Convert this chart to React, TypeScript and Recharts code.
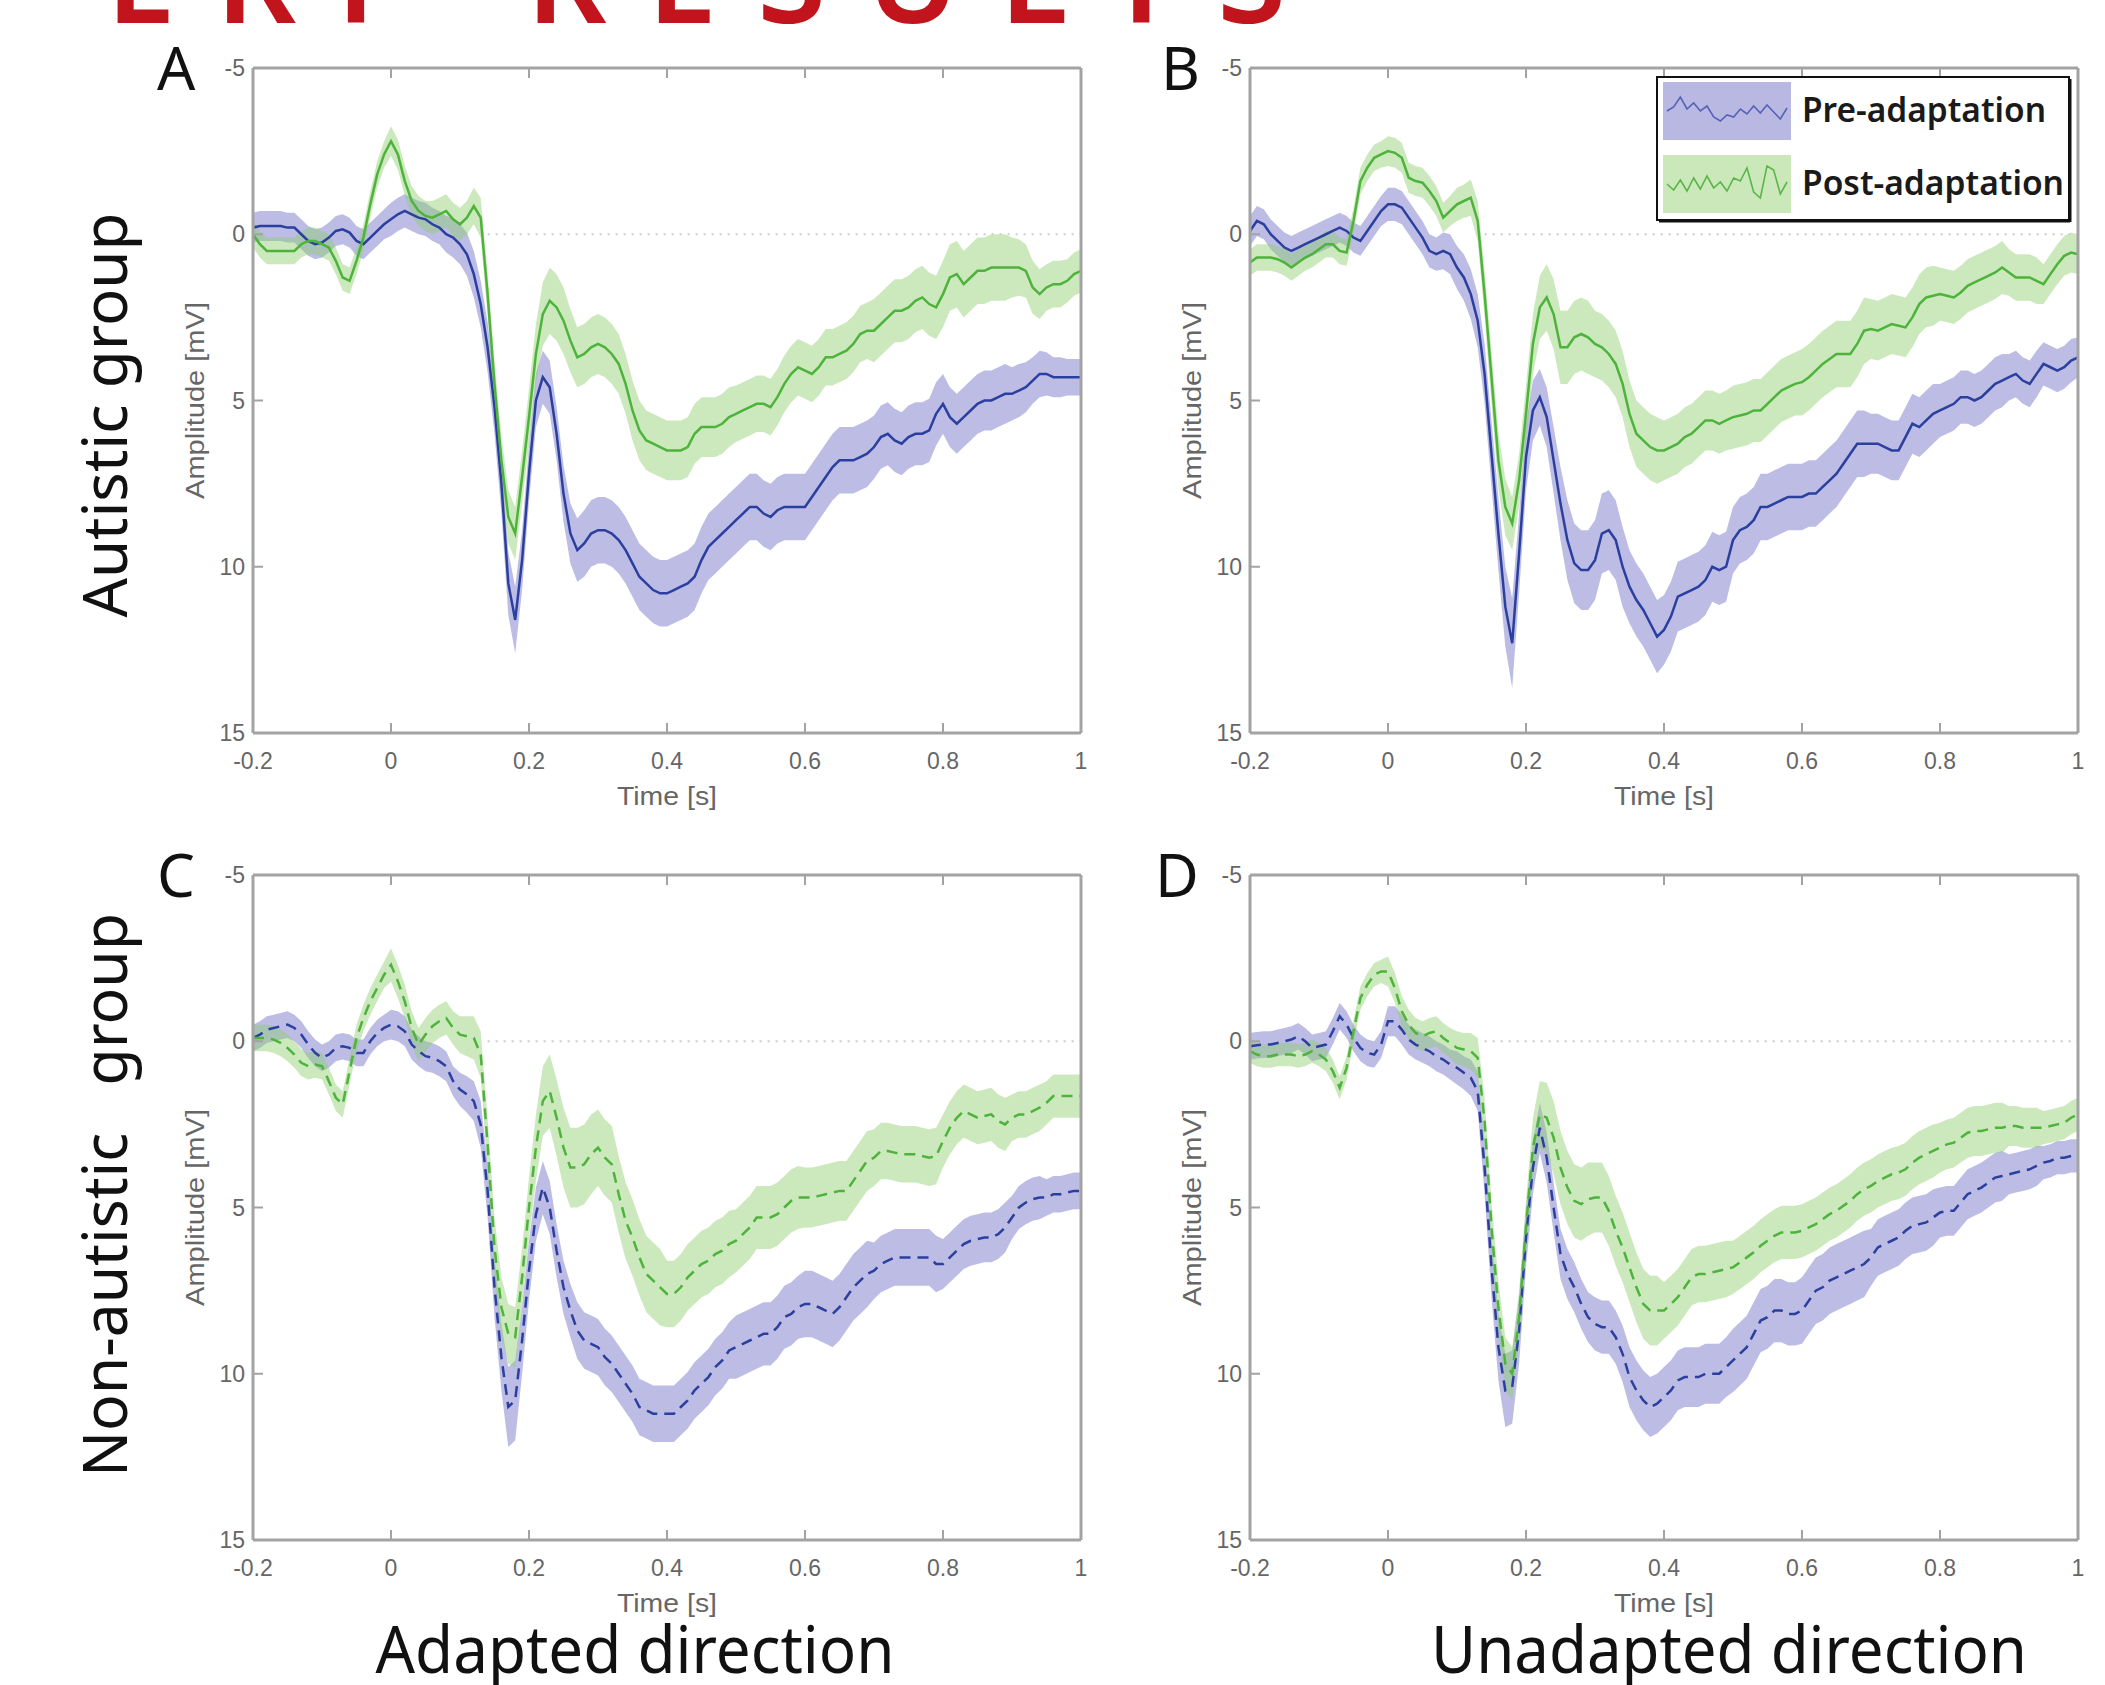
import React from 'react';
import { ComposedChart, Area, Line, XAxis, YAxis, ReferenceLine } from 'recharts';

// sample times (s), 10 ms grid
const times = [
  -0.2, -0.19, -0.18, -0.17, -0.16, -0.15, -0.14, -0.13, -0.12, -0.11,
  -0.1, -0.09, -0.08, -0.07, -0.06, -0.05, -0.04, -0.03, -0.02, -0.01,
  0, 0.01, 0.02, 0.03, 0.04, 0.05, 0.06, 0.07, 0.08, 0.09,
  0.1, 0.11, 0.12, 0.13, 0.14, 0.15, 0.16, 0.17, 0.18, 0.19,
  0.2, 0.21, 0.22, 0.23, 0.24, 0.25, 0.26, 0.27, 0.28, 0.29,
  0.3, 0.31, 0.32, 0.33, 0.34, 0.35, 0.36, 0.37, 0.38, 0.39,
  0.4, 0.41, 0.42, 0.43, 0.44, 0.45, 0.46, 0.47, 0.48, 0.49,
  0.5, 0.51, 0.52, 0.53, 0.54, 0.55, 0.56, 0.57, 0.58, 0.59,
  0.6, 0.61, 0.62, 0.63, 0.64, 0.65, 0.66, 0.67, 0.68, 0.69,
  0.7, 0.71, 0.72, 0.73, 0.74, 0.75, 0.76, 0.77, 0.78, 0.79,
  0.8, 0.81, 0.82, 0.83, 0.84, 0.85, 0.86, 0.87, 0.88, 0.89,
  0.9, 0.91, 0.92, 0.93, 0.94, 0.95, 0.96, 0.97, 0.98, 0.99,
  1,
];

// A: autistic, adapted direction
const preA = [
  -0.2, -0.25, -0.25, -0.25, -0.25, -0.2, -0.2, 0, 0.2, 0.3,
  0.25, 0.1, -0.1, -0.15, -0.05, 0.2, 0.3, 0.1, -0.1, -0.3,
  -0.45, -0.6, -0.7, -0.6, -0.5, -0.45, -0.3, -0.2, 0, 0.1,
  0.3, 0.6, 1.2, 2.1, 3.4, 5.2, 7.5, 10.5, 11.6, 9.8,
  7.2, 5.0, 4.3, 4.6, 6.0, 7.8, 9.0, 9.5, 9.3, 9.0,
  8.9, 8.9, 9.0, 9.2, 9.5, 9.9, 10.3, 10.5, 10.7, 10.8,
  10.8, 10.7, 10.6, 10.5, 10.3, 9.8, 9.4, 9.2, 9.0, 8.8,
  8.6, 8.4, 8.2, 8.2, 8.4, 8.5, 8.3, 8.2, 8.2, 8.2,
  8.2, 7.9, 7.6, 7.3, 7.0, 6.8, 6.8, 6.8, 6.7, 6.6,
  6.4, 6.1, 6.0, 6.2, 6.3, 6.1, 6.0, 6.0, 5.9, 5.4,
  5.1, 5.5, 5.7, 5.5, 5.3, 5.1, 5.0, 5.0, 4.9, 4.8,
  4.8, 4.7, 4.6, 4.4, 4.2, 4.2, 4.3, 4.3, 4.3, 4.3,
  4.3,
];
const semPreA = [
  0.45, 0.45, 0.45, 0.45, 0.45, 0.45, 0.45, 0.45, 0.45, 0.45,
  0.45, 0.45, 0.45, 0.45, 0.45, 0.45, 0.45, 0.45, 0.45, 0.45,
  0.5, 0.5, 0.5, 0.5, 0.5, 0.5, 0.5, 0.5, 0.55, 0.6,
  0.6, 0.65, 0.7, 0.7, 0.75, 0.8, 0.9, 0.95, 1.0, 0.9,
  0.85, 0.8, 0.8, 0.8, 0.8, 0.85, 0.9, 0.95, 1.0, 1.0,
  1.0, 1.0, 1.0, 1.0, 1.0, 1.0, 1.0, 1.0, 1.0, 1.0,
  1.0, 1.0, 1.0, 1.0, 1.0, 1.0, 1.0, 1.0, 1.0, 1.0,
  1.0, 1.0, 1.0, 1.0, 1.0, 1.0, 1.0, 1.0, 1.0, 1.0,
  1.0, 1.0, 1.0, 1.0, 1.0, 1.0, 1.0, 1.0, 1.0, 1.0,
  0.95, 0.95, 0.95, 0.95, 0.95, 0.95, 0.95, 0.95, 0.95, 0.95,
  0.9, 0.9, 0.9, 0.9, 0.9, 0.9, 0.9, 0.9, 0.9, 0.9,
  0.8, 0.8, 0.75, 0.7, 0.7, 0.65, 0.6, 0.6, 0.55, 0.55,
  0.55,
];
const postA = [
  0, 0.3, 0.5, 0.5, 0.5, 0.5, 0.5, 0.3, 0.2, 0.2,
  0.3, 0.4, 0.8, 1.3, 1.4, 0.8, 0.1, -0.9, -1.8, -2.4,
  -2.8, -2.4, -1.6, -1.0, -0.7, -0.55, -0.5, -0.6, -0.7, -0.45,
  -0.3, -0.5, -0.85, -0.5, 1.8, 4.5, 6.8, 8.5, 9.0, 7.3,
  5.5, 3.6, 2.4, 2.0, 2.2, 2.6, 3.2, 3.7, 3.6, 3.4,
  3.3, 3.4, 3.6, 3.9, 4.5, 5.3, 5.9, 6.2, 6.3, 6.4,
  6.5, 6.5, 6.5, 6.4, 6.0, 5.8, 5.8, 5.8, 5.7, 5.5,
  5.4, 5.3, 5.2, 5.1, 5.1, 5.2, 4.9, 4.5, 4.2, 4.0,
  4.1, 4.2, 4.0, 3.7, 3.7, 3.6, 3.5, 3.3, 3.0, 2.9,
  2.9, 2.7, 2.5, 2.3, 2.3, 2.2, 2.0, 1.9, 2.1, 2.2,
  1.8, 1.3, 1.2, 1.5, 1.3, 1.1, 1.1, 1.0, 1.0, 1.0,
  1.0, 1.0, 1.1, 1.6, 1.8, 1.6, 1.5, 1.5, 1.4, 1.2,
  1.1,
];
const semPostA = [
  0.4, 0.4, 0.4, 0.4, 0.4, 0.4, 0.4, 0.4, 0.4, 0.4,
  0.4, 0.4, 0.4, 0.4, 0.4, 0.4, 0.4, 0.4, 0.4, 0.4,
  0.45, 0.45, 0.45, 0.45, 0.45, 0.45, 0.5, 0.5, 0.5, 0.5,
  0.5, 0.5, 0.55, 0.6, 0.65, 0.7, 0.75, 0.8, 0.8, 0.8,
  0.85, 0.9, 0.95, 1.0, 1.0, 1.0, 0.95, 0.9, 0.9, 0.9,
  0.9, 0.9, 0.9, 0.9, 0.9, 0.9, 0.9, 0.9, 0.9, 0.9,
  0.9, 0.9, 0.9, 0.9, 0.9, 0.9, 0.9, 0.9, 0.9, 0.9,
  0.85, 0.85, 0.85, 0.85, 0.85, 0.85, 0.85, 0.85, 0.85, 0.85,
  0.85, 0.85, 0.85, 0.85, 0.85, 0.85, 0.85, 0.85, 0.85, 0.85,
  0.95, 0.95, 0.95, 0.95, 0.95, 0.95, 0.95, 0.95, 0.95, 0.95,
  1.0, 1.0, 1.0, 1.0, 1.0, 1.0, 1.0, 1.0, 1.0, 1.0,
  0.9, 0.85, 0.8, 0.8, 0.75, 0.7, 0.7, 0.7, 0.65, 0.65,
  0.65,
];

// B: autistic, unadapted direction
const preB = [
  -0.1, -0.4, -0.3, 0, 0.2, 0.4, 0.5, 0.4, 0.3, 0.2,
  0.1, 0, -0.1, -0.2, -0.1, 0.1, 0.2, -0.1, -0.4, -0.7,
  -0.9, -0.9, -0.8, -0.5, -0.2, 0.1, 0.5, 0.6, 0.5, 0.6,
  1.0, 1.3, 1.8, 2.6, 4.2, 6.6, 9.0, 11.2, 12.3, 9.6,
  6.7, 5.3, 4.9, 5.5, 6.8, 8.1, 9.2, 9.9, 10.1, 10.1,
  9.8, 9.0, 8.9, 9.2, 10.0, 10.6, 11.0, 11.3, 11.7, 12.1,
  11.9, 11.5, 10.9, 10.8, 10.7, 10.6, 10.4, 10.0, 10.1, 10.0,
  9.2, 8.9, 8.8, 8.6, 8.2, 8.2, 8.1, 8.0, 7.9, 7.9,
  7.9, 7.8, 7.8, 7.6, 7.4, 7.2, 6.9, 6.6, 6.3, 6.3,
  6.3, 6.3, 6.4, 6.5, 6.5, 6.1, 5.7, 5.8, 5.6, 5.4,
  5.3, 5.2, 5.1, 4.9, 4.9, 5.0, 4.9, 4.7, 4.5, 4.4,
  4.3, 4.2, 4.4, 4.5, 4.2, 3.9, 4.0, 4.1, 4.0, 3.8,
  3.7,
];
const semPreB = [
  0.45, 0.45, 0.45, 0.45, 0.45, 0.45, 0.45, 0.45, 0.45, 0.45,
  0.45, 0.45, 0.45, 0.45, 0.45, 0.45, 0.45, 0.45, 0.45, 0.45,
  0.5, 0.5, 0.5, 0.5, 0.5, 0.5, 0.5, 0.5, 0.55, 0.6,
  0.65, 0.7, 0.75, 0.8, 0.9, 1.0, 1.1, 1.2, 1.35, 1.2,
  1.0, 0.9, 0.85, 0.9, 1.0, 1.1, 1.2, 1.2, 1.2, 1.2,
  1.2, 1.2, 1.2, 1.2, 1.2, 1.1, 1.1, 1.1, 1.1, 1.1,
  1.05, 1.05, 1.05, 1.05, 1.05, 1.05, 1.05, 1.05, 1.05, 1.05,
  1.0, 1.0, 1.0, 1.0, 1.0, 1.0, 1.0, 1.0, 1.0, 1.0,
  1.0, 1.0, 1.0, 1.0, 1.0, 1.0, 1.0, 1.0, 1.0, 1.0,
  0.9, 0.9, 0.9, 0.9, 0.9, 0.9, 0.9, 0.9, 0.9, 0.9,
  0.8, 0.8, 0.8, 0.8, 0.8, 0.8, 0.8, 0.8, 0.8, 0.8,
  0.7, 0.7, 0.7, 0.7, 0.7, 0.65, 0.65, 0.65, 0.65, 0.65,
  0.6,
];
const postB = [
  0.85, 0.7, 0.7, 0.7, 0.75, 0.85, 1.0, 0.85, 0.7, 0.6,
  0.45, 0.3, 0.3, 0.5, 0.55, -0.4, -1.6, -2.0, -2.3, -2.4,
  -2.5, -2.45, -2.3, -1.7, -1.6, -1.55, -1.3, -1.0, -0.5, -0.7,
  -0.9, -1.0, -1.1, -0.4, 1.8, 4.3, 6.8, 8.2, 8.7, 7.4,
  5.4, 3.3, 2.2, 1.9, 2.4, 3.4, 3.4, 3.1, 3.0, 3.1,
  3.3, 3.4, 3.6, 3.9, 4.5, 5.4, 6.0, 6.2, 6.4, 6.5,
  6.5, 6.4, 6.3, 6.1, 6.0, 5.8, 5.6, 5.6, 5.7, 5.6,
  5.5, 5.45, 5.4, 5.3, 5.3, 5.1, 4.9, 4.7, 4.6, 4.5,
  4.45, 4.3, 4.1, 3.9, 3.75, 3.6, 3.6, 3.6, 3.3, 2.9,
  2.85, 2.9, 2.8, 2.7, 2.75, 2.8, 2.5, 2.1, 1.9, 1.85,
  1.8, 1.85, 1.9, 1.75, 1.55, 1.45, 1.35, 1.25, 1.15, 1.0,
  1.15, 1.3, 1.3, 1.3, 1.4, 1.5, 1.2, 0.9, 0.65, 0.55,
  0.6,
];
const semPostB = [
  0.4, 0.4, 0.4, 0.4, 0.4, 0.4, 0.4, 0.4, 0.4, 0.4,
  0.4, 0.4, 0.4, 0.4, 0.4, 0.4, 0.4, 0.4, 0.4, 0.4,
  0.45, 0.45, 0.45, 0.45, 0.45, 0.45, 0.45, 0.45, 0.45, 0.45,
  0.5, 0.5, 0.55, 0.6, 0.7, 0.8, 0.85, 0.85, 0.8, 0.8,
  0.85, 0.9, 0.95, 1.0, 1.05, 1.1, 1.1, 1.1, 1.1, 1.1,
  1.0, 1.0, 1.0, 1.0, 1.0, 1.0, 1.0, 1.0, 1.0, 1.0,
  0.9, 0.9, 0.9, 0.9, 0.9, 0.9, 0.9, 0.9, 0.9, 0.9,
  0.95, 0.95, 0.95, 0.95, 0.95, 0.95, 0.95, 0.95, 0.95, 0.95,
  1.0, 1.0, 1.0, 1.0, 1.0, 1.0, 1.0, 1.0, 1.0, 1.0,
  0.9, 0.9, 0.9, 0.9, 0.9, 0.9, 0.9, 0.9, 0.9, 0.9,
  0.8, 0.8, 0.8, 0.8, 0.8, 0.8, 0.8, 0.8, 0.8, 0.8,
  0.7, 0.7, 0.7, 0.7, 0.7, 0.6, 0.6, 0.6, 0.6, 0.6,
  0.6,
];

// C: non-autistic, adapted direction
const preC = [
  -0.1, -0.2, -0.35, -0.4, -0.45, -0.5, -0.4, -0.2, 0.1, 0.35,
  0.5, 0.4, 0.2, 0.15, 0.2, 0.35, 0.35, 0, -0.25, -0.4,
  -0.5, -0.45, -0.3, 0.1, 0.3, 0.45, 0.5, 0.6, 0.75, 1.2,
  1.45, 1.6, 1.8, 2.5, 4.5, 7.4, 9.5, 11.0, 10.8, 9.0,
  6.9, 5.2, 4.4, 5.0, 6.3, 7.4, 8.1, 8.7, 9.0, 9.1,
  9.2, 9.5, 9.7, 10.0, 10.3, 10.6, 11.0, 11.1, 11.2, 11.2,
  11.2, 11.2, 11.0, 10.8, 10.5, 10.3, 10.1, 9.8, 9.6, 9.3,
  9.2, 9.1, 9.0, 8.9, 8.8, 8.8, 8.6, 8.3, 8.2, 8.0,
  7.9, 7.9, 8.0, 8.1, 8.2, 8.0, 7.7, 7.4, 7.2, 7.0,
  6.9, 6.7, 6.6, 6.5, 6.5, 6.5, 6.5, 6.5, 6.5, 6.7,
  6.7, 6.5, 6.3, 6.1, 6.0, 5.95, 5.9, 5.9, 5.8, 5.6,
  5.3, 5.0, 4.85, 4.75, 4.7, 4.7, 4.6, 4.6, 4.55, 4.5,
  4.5,
];
const semPreC = [
  0.4, 0.4, 0.4, 0.4, 0.4, 0.4, 0.4, 0.4, 0.4, 0.4,
  0.4, 0.4, 0.4, 0.4, 0.4, 0.4, 0.4, 0.4, 0.4, 0.4,
  0.45, 0.45, 0.45, 0.45, 0.45, 0.45, 0.45, 0.45, 0.45, 0.45,
  0.5, 0.55, 0.6, 0.7, 0.8, 0.9, 1.0, 1.2, 1.2, 1.0,
  0.9, 0.8, 0.8, 0.8, 0.8, 0.8, 0.8, 0.85, 0.85, 0.85,
  0.85, 0.85, 0.85, 0.85, 0.85, 0.85, 0.85, 0.85, 0.85, 0.85,
  0.85, 0.85, 0.85, 0.85, 0.85, 0.85, 0.85, 0.85, 0.85, 0.85,
  0.95, 0.95, 0.95, 0.95, 0.95, 0.95, 0.95, 0.95, 0.95, 0.95,
  1.0, 1.0, 1.0, 1.0, 1.0, 1.0, 1.0, 1.0, 1.0, 1.0,
  0.85, 0.85, 0.85, 0.85, 0.85, 0.85, 0.85, 0.85, 0.85, 0.85,
  0.75, 0.75, 0.75, 0.75, 0.75, 0.75, 0.75, 0.75, 0.75, 0.75,
  0.65, 0.65, 0.65, 0.65, 0.65, 0.55, 0.55, 0.55, 0.55, 0.55,
  0.55,
];
const postC = [
  -0.1, -0.1, -0.1, -0.05, 0.05, 0.2, 0.4, 0.65, 0.75, 0.7,
  0.75, 1.2, 1.7, 1.9, 0.9, -0.1, -0.7, -1.2, -1.6, -2.0,
  -2.3, -1.8, -1.2, -0.4, 0.1, -0.2, -0.45, -0.6, -0.7, -0.4,
  -0.2, -0.15, -0.1, 0.4, 3.1, 6.2, 8.0, 8.8, 8.9, 7.1,
  5.0, 3.2, 1.8, 1.5, 2.3, 3.2, 3.8, 3.8, 3.7, 3.4,
  3.2, 3.5, 3.7, 4.6, 5.4, 5.9, 6.5, 7.0, 7.2, 7.4,
  7.6, 7.6, 7.4, 7.1, 6.9, 6.7, 6.6, 6.4, 6.3, 6.1,
  6.0, 5.8, 5.6, 5.3, 5.3, 5.3, 5.2, 5.0, 4.8, 4.7,
  4.7, 4.7, 4.65, 4.6, 4.55, 4.5, 4.5, 4.2, 3.9, 3.6,
  3.5, 3.3, 3.3, 3.35, 3.4, 3.4, 3.4, 3.45, 3.5, 3.45,
  3.0, 2.6, 2.3, 2.1, 2.2, 2.3, 2.25, 2.2, 2.4, 2.5,
  2.3, 2.2, 2.2, 2.1, 2.0, 1.85, 1.65, 1.65, 1.65, 1.65,
  1.65,
];
const semPostC = [
  0.4, 0.4, 0.4, 0.4, 0.4, 0.4, 0.4, 0.4, 0.4, 0.4,
  0.4, 0.4, 0.4, 0.4, 0.4, 0.4, 0.4, 0.4, 0.4, 0.4,
  0.5, 0.5, 0.5, 0.5, 0.5, 0.5, 0.5, 0.5, 0.5, 0.5,
  0.55, 0.6, 0.65, 0.7, 0.8, 0.9, 0.9, 0.9, 0.9, 0.9,
  0.9, 1.0, 1.05, 1.1, 1.15, 1.2, 1.2, 1.2, 1.2, 1.2,
  1.15, 1.15, 1.15, 1.15, 1.15, 1.15, 1.15, 1.15, 1.15, 1.15,
  1.0, 1.0, 1.0, 1.0, 1.0, 1.0, 1.0, 1.0, 1.0, 1.0,
  0.95, 0.95, 0.95, 0.95, 0.95, 0.95, 0.95, 0.95, 0.95, 0.95,
  0.9, 0.9, 0.9, 0.9, 0.9, 0.9, 0.9, 0.9, 0.9, 0.9,
  0.85, 0.85, 0.85, 0.85, 0.85, 0.85, 0.85, 0.85, 0.85, 0.85,
  0.8, 0.8, 0.8, 0.8, 0.8, 0.8, 0.8, 0.8, 0.8, 0.8,
  0.7, 0.7, 0.7, 0.7, 0.7, 0.65, 0.65, 0.65, 0.65, 0.65,
  0.65,
];

// D: non-autistic, unadapted direction
const preD = [
  0.15, 0.12, 0.1, 0.1, 0.05, 0, -0.05, -0.15, 0, 0.2,
  0.15, 0.1, -0.3, -0.75, -0.5, -0.1, 0.2, 0.35, 0.4, 0.1,
  -0.6, -0.6, -0.35, -0.05, 0.1, 0.2, 0.3, 0.45, 0.55, 0.7,
  0.8, 0.95, 1.1, 1.5, 3.8, 6.8, 9.2, 10.5, 10.4, 8.7,
  5.9, 3.8, 2.6, 3.5, 5.0, 6.4, 7.0, 7.4, 7.9, 8.3,
  8.5, 8.6, 8.6, 8.9, 9.4, 10.1, 10.5, 10.8, 11.0, 10.9,
  10.7, 10.5, 10.2, 10.1, 10.1, 10.1, 10.0, 10.0, 10.0, 9.8,
  9.6, 9.4, 9.2, 8.8, 8.4, 8.3, 8.1, 8.1, 8.2, 8.2,
  8.1, 7.8, 7.5, 7.4, 7.2, 7.1, 7.0, 6.9, 6.8, 6.7,
  6.5, 6.2, 6.1, 6.0, 5.9, 5.7, 5.55, 5.5, 5.45, 5.3,
  5.15, 5.1, 5.1, 4.85, 4.6, 4.5, 4.4, 4.25, 4.1, 4.05,
  4.0, 3.95, 3.9, 3.85, 3.75, 3.65, 3.6, 3.5, 3.5, 3.45,
  3.45,
];
const semPreD = [
  0.4, 0.4, 0.4, 0.4, 0.4, 0.4, 0.4, 0.4, 0.4, 0.4,
  0.4, 0.4, 0.4, 0.4, 0.4, 0.4, 0.4, 0.4, 0.4, 0.4,
  0.45, 0.45, 0.45, 0.45, 0.45, 0.45, 0.45, 0.45, 0.45, 0.45,
  0.5, 0.5, 0.55, 0.6, 0.8, 0.9, 1.0, 1.1, 1.1, 1.0,
  0.9, 0.8, 0.75, 0.75, 0.75, 0.75, 0.75, 0.75, 0.75, 0.75,
  0.8, 0.8, 0.8, 0.8, 0.85, 0.9, 0.9, 0.9, 0.9, 0.9,
  0.9, 0.9, 0.9, 0.9, 0.9, 0.9, 0.9, 0.9, 0.9, 0.9,
  0.95, 0.95, 0.95, 0.95, 0.95, 0.95, 0.95, 0.95, 0.95, 0.95,
  1.0, 1.0, 1.0, 1.0, 1.0, 1.0, 1.0, 1.0, 1.0, 1.0,
  0.85, 0.85, 0.85, 0.85, 0.85, 0.85, 0.85, 0.85, 0.85, 0.85,
  0.75, 0.75, 0.75, 0.75, 0.75, 0.75, 0.75, 0.75, 0.75, 0.75,
  0.6, 0.6, 0.6, 0.6, 0.6, 0.5, 0.5, 0.5, 0.5, 0.5,
  0.5,
];
const postD = [
  0.3, 0.4, 0.45, 0.45, 0.4, 0.4, 0.4, 0.45, 0.4, 0.3,
  0.4, 0.55, 0.9, 1.4, 0.8, -0.3, -1.3, -1.7, -2.0, -2.1,
  -2.1, -1.6, -0.9, -0.5, -0.25, -0.15, -0.25, -0.3, -0.1, 0.05,
  0.2, 0.25, 0.3, 0.5, 2.4, 5.6, 8.0, 9.7, 10.0, 8.3,
  5.6, 3.2, 2.2, 2.3, 2.9, 3.8, 4.4, 4.8, 4.9, 4.75,
  4.7, 4.7, 5.1, 5.7, 6.2, 6.8, 7.4, 7.9, 8.1, 8.1,
  8.1, 7.9, 7.7, 7.4, 7.1, 7.0, 7.0, 6.95, 6.9, 6.85,
  6.8, 6.65, 6.5, 6.35, 6.15, 6.0, 5.85, 5.75, 5.75, 5.75,
  5.7, 5.6, 5.5, 5.35, 5.2, 5.1, 4.95, 4.8, 4.6, 4.45,
  4.35, 4.2, 4.1, 4.0, 3.95, 3.85, 3.65, 3.5, 3.4, 3.3,
  3.2, 3.1, 3.05, 2.9, 2.75, 2.7, 2.7, 2.65, 2.6, 2.6,
  2.55, 2.55, 2.6, 2.6, 2.6, 2.6, 2.55, 2.5, 2.45, 2.3,
  2.2,
];
const semPostD = [
  0.35, 0.35, 0.35, 0.35, 0.35, 0.35, 0.35, 0.35, 0.35, 0.35,
  0.35, 0.35, 0.35, 0.35, 0.35, 0.35, 0.35, 0.35, 0.35, 0.35,
  0.45, 0.45, 0.45, 0.45, 0.45, 0.45, 0.45, 0.45, 0.45, 0.45,
  0.5, 0.5, 0.55, 0.6, 0.7, 0.8, 0.8, 0.8, 0.8, 0.8,
  0.8, 0.9, 1.0, 1.05, 1.1, 1.1, 1.1, 1.1, 1.1, 1.1,
  1.05, 1.05, 1.05, 1.05, 1.05, 1.05, 1.05, 1.05, 1.05, 1.05,
  0.85, 0.85, 0.85, 0.85, 0.85, 0.85, 0.85, 0.85, 0.85, 0.85,
  0.8, 0.8, 0.8, 0.8, 0.8, 0.8, 0.8, 0.8, 0.8, 0.8,
  0.8, 0.8, 0.8, 0.8, 0.8, 0.8, 0.8, 0.8, 0.8, 0.8,
  0.8, 0.8, 0.8, 0.8, 0.8, 0.8, 0.8, 0.8, 0.8, 0.8,
  0.75, 0.75, 0.75, 0.75, 0.75, 0.75, 0.75, 0.75, 0.75, 0.75,
  0.6, 0.6, 0.6, 0.6, 0.6, 0.5, 0.5, 0.5, 0.5, 0.5,
  0.5,
];

const xTicks = [-0.2, 0, 0.2, 0.4, 0.6, 0.8, 1];
const yTicks = [-5, 0, 5, 10, 15];

// little wiggles drawn inside the legend swatches
const legendPreTrace = [0, -4, -14, -2, -8, 0, -5, 6, 10, 4, 6, -2, 3, -5, 2, -6, 1, 8, -3];
const legendPostTrace = [0, 6, -4, 7, -6, 5, -8, 4, -2, 7, -6, -3, -16, 8, 14, -18, -14, 10, -2];

const PRE_LINE = '#2b3f9f';
const PRE_BAND = '#6b6bc6';
const POST_LINE = '#4db33b';
const POST_BAND = '#8fcf6f';
const AXIS = '#a3a3a3';
const TICK_TEXT = '#666666';
const FONT_AXIS = "'Liberation Sans', Arial, sans-serif";
const FONT_LABEL = "'Noto Sans', 'Open Sans', sans-serif";

const PLOT_W = 828;
const PLOT_H = 665;
const Y_AXIS_W = 110;
const X_AXIS_H = 90;
const TOP_GAP = 20;
const RIGHT_GAP = 20;

const buildRows = (pre: number[], semPre: number[], post: number[], semPost: number[]) =>
  times.map((t, i) => ({
    t,
    pre: pre[i],
    preBand: [pre[i] - semPre[i], pre[i] + semPre[i]],
    post: post[i],
    postBand: [post[i] - semPost[i], post[i] + semPost[i]],
  }));

const panels = [
  { id: 'A', plotLeft: 253, plotTop: 68, dashed: false, rows: buildRows(preA, semPreA, postA, semPostA) },
  { id: 'B', plotLeft: 1250, plotTop: 68, dashed: false, rows: buildRows(preB, semPreB, postB, semPostB) },
  { id: 'C', plotLeft: 253, plotTop: 875, dashed: true, rows: buildRows(preC, semPreC, postC, semPostC) },
  { id: 'D', plotLeft: 1250, plotTop: 875, dashed: true, rows: buildRows(preD, semPreD, postD, semPostD) },
];

const axisLineStyle = { stroke: AXIS, strokeWidth: 3 };
const tickLineStyle = { stroke: AXIS, strokeWidth: 2 };
const tickText = { fill: TICK_TEXT, fontSize: 23, fontFamily: FONT_AXIS };
const blank = () => '';

const ErpPanel = ({ plotLeft, plotTop, rows, dashed }: any) => (
  <div style={{ position: 'absolute', left: plotLeft - Y_AXIS_W, top: plotTop - TOP_GAP }}>
    <ComposedChart
      width={Y_AXIS_W + PLOT_W + RIGHT_GAP}
      height={TOP_GAP + PLOT_H + X_AXIS_H}
      data={rows}
      margin={{ top: TOP_GAP - 1, right: RIGHT_GAP - 1, bottom: 0, left: 0 }}
    >
      <XAxis
        dataKey="t"
        type="number"
        domain={[-0.2, 1]}
        ticks={xTicks}
        interval={0}
        height={X_AXIS_H}
        tickSize={-10}
        tickMargin={30}
        axisLine={axisLineStyle}
        tickLine={tickLineStyle}
        tick={tickText}
      />
      <XAxis
        xAxisId="top"
        orientation="top"
        dataKey="t"
        type="number"
        domain={[-0.2, 1]}
        ticks={xTicks}
        interval={0}
        height={1}
        tickSize={-10}
        tickFormatter={blank}
        axisLine={axisLineStyle}
        tickLine={tickLineStyle}
      />
      <YAxis
        type="number"
        domain={[-5, 15]}
        reversed
        ticks={yTicks}
        interval={0}
        width={Y_AXIS_W}
        tickSize={-10}
        tickMargin={18}
        axisLine={axisLineStyle}
        tickLine={tickLineStyle}
        tick={tickText}
      />
      <YAxis
        yAxisId="right"
        orientation="right"
        type="number"
        domain={[-5, 15]}
        reversed
        ticks={yTicks}
        interval={0}
        width={1}
        tickSize={-10}
        tickFormatter={blank}
        axisLine={axisLineStyle}
        tickLine={tickLineStyle}
      />
      <ReferenceLine
        segment={[{ x: 0.14, y: 0 }, { x: 1, y: 0 }]}
        stroke="#cccccc"
        strokeWidth={2}
        strokeDasharray="2 6"
      />
      <Area
        type="linear"
        dataKey="preBand"
        stroke="none"
        fill={PRE_BAND}
        fillOpacity={0.45}
        isAnimationActive={false}
      />
      <Line
        type="linear"
        dataKey="pre"
        stroke={PRE_LINE}
        strokeWidth={2.5}
        strokeDasharray={dashed ? '11 7' : undefined}
        dot={false}
        activeDot={false}
        isAnimationActive={false}
      />
      <Area
        type="linear"
        dataKey="postBand"
        stroke="none"
        fill={POST_BAND}
        fillOpacity={0.45}
        isAnimationActive={false}
      />
      <Line
        type="linear"
        dataKey="post"
        stroke={POST_LINE}
        strokeWidth={2.5}
        strokeDasharray={dashed ? '11 7' : undefined}
        dot={false}
        activeDot={false}
        isAnimationActive={false}
      />
    </ComposedChart>
  </div>
);

const tracePoints = (trace: number[], w: number, mid: number) =>
  trace.map((v, i) => `${4 + (i * (w - 8)) / (trace.length - 1)},${mid + v}`).join(' ');

const ErpLegend = () => (
  <svg
    width={416}
    height={147}
    style={{ position: 'absolute', left: 1656, top: 76, overflow: 'visible' }}
  >
    <rect x={1} y={1} width={412} height={143} fill="#ffffff" stroke="#111111" strokeWidth={2} />
    <line x1={3} y1={145} x2={414} y2={145} stroke="#111111" strokeWidth={3} />
    <line x1={414} y1={3} x2={414} y2={146} stroke="#111111" strokeWidth={3} />
    <rect x={7} y={6} width={128} height={58} fill="#b8b8e3" />
    <polyline points={tracePoints(legendPreTrace, 128, 35).replace(/(\d+\.?\d*),/g, (m, x) => `${7 + Number(x)},`)} fill="none" stroke="#5662b6" strokeWidth={1.6} />
    <rect x={7} y={79} width={128} height={58} fill="#cbe8bb" />
    <polyline points={tracePoints(legendPostTrace, 128, 108).replace(/(\d+\.?\d*),/g, (m, x) => `${7 + Number(x)},`)} fill="none" stroke="#5cb548" strokeWidth={1.6} />
    <text x={146} y={46} fontFamily={FONT_LABEL} fontWeight={600} fontSize={34} fill="#1a1a1a" textLength={244} lengthAdjust="spacingAndGlyphs">
      Pre-adaptation
    </text>
    <text x={146} y={119} fontFamily={FONT_LABEL} fontWeight={600} fontSize={34} fill="#1a1a1a" textLength={262} lengthAdjust="spacingAndGlyphs">
      Post-adaptation
    </text>
  </svg>
);

const Annotations = () => (
  <svg width={2105} height={1685} style={{ position: 'absolute', left: 0, top: 0, pointerEvents: 'none' }}>
    <text x={106} y={23} fontFamily={FONT_LABEL} fontWeight={600} fontSize={125} fill="#c1141d" textLength={1180} lengthAdjust="spacing">
      ERP RESULTS
    </text>
    {panels.map((p) => (
      <g key={p.id}>
        <text
          x={p.id === 'A' || p.id === 'C' ? 157 : p.id === 'B' ? 1161 : 1155}
          y={p.plotTop + 22}
          fontFamily={FONT_LABEL}
          fontSize={60}
          fill="#111111"
        >
          {p.id}
        </text>
        <text
          x={p.plotLeft + PLOT_W / 2}
          y={p.plotTop + PLOT_H + 72}
          textAnchor="middle"
          fontFamily={FONT_AXIS}
          fontSize={26}
          fill={TICK_TEXT}
          textLength={100}
          lengthAdjust="spacingAndGlyphs"
        >
          Time [s]
        </text>
        <text
          transform={`translate(${p.plotLeft - 49},${p.plotTop + PLOT_H / 2}) rotate(-90)`}
          textAnchor="middle"
          fontFamily={FONT_AXIS}
          fontSize={25}
          fill={TICK_TEXT}
          textLength={197}
          lengthAdjust="spacingAndGlyphs"
        >
          Amplitude [mV]
        </text>
      </g>
    ))}
    <text
      transform="translate(127,415) rotate(-90)"
      textAnchor="middle"
      fontFamily={FONT_LABEL}
      fontSize={62}
      fill="#111111"
      textLength={405}
      lengthAdjust="spacingAndGlyphs"
    >
      Autistic group
    </text>
    <text
      transform="translate(127,1195) rotate(-90)"
      textAnchor="middle"
      fontFamily={FONT_LABEL}
      fontSize={62}
      fill="#111111"
      textLength={564}
      lengthAdjust="spacingAndGlyphs"
      style={{ whiteSpace: 'pre' }}
    >
      {'Non-autistic   group'}
    </text>
    <text x={635} y={1673} textAnchor="middle" fontFamily={FONT_LABEL} fontSize={66} fill="#111111" textLength={519} lengthAdjust="spacingAndGlyphs">
      Adapted direction
    </text>
    <text x={1729} y={1673} textAnchor="middle" fontFamily={FONT_LABEL} fontSize={66} fill="#111111" textLength={596} lengthAdjust="spacingAndGlyphs">
      Unadapted direction
    </text>
  </svg>
);

export default function App() {
  return (
    <div
      style={{
        position: 'absolute',
        left: 0,
        top: 0,
        width: 2105,
        height: 1685,
        background: '#ffffff',
        overflow: 'hidden',
      }}
    >
      {panels.map((p) => (
        <ErpPanel key={p.id} plotLeft={p.plotLeft} plotTop={p.plotTop} rows={p.rows} dashed={p.dashed} />
      ))}
      <ErpLegend />
      <Annotations />
    </div>
  );
}
